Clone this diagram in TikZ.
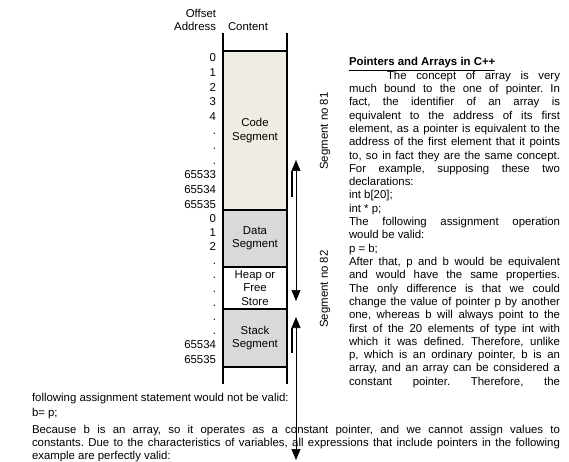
\documentclass[tikz,border=0pt]{standalone}
\usepackage{fontspec}
\setmainfont{Liberation Sans}
\usetikzlibrary{arrows.meta}
\frenchspacing
\newcommand{\jline}[2]{\makebox[#1][s]{#2}}
\definecolor{codefill}{RGB}{239,236,227}
\definecolor{segfill}{RGB}{217,217,217}
\begin{document}
\begin{tikzpicture}[x=1pt,y=-1pt,
  txt/.style={inner sep=0pt, outer sep=0pt, font=\fontsize{11.4}{13.5}\selectfont\frenchspacing},
  rl/.style={txt, anchor=base west},
  num/.style={txt, anchor=base east},
  segbox/.style={txt, draw=none, minimum width=64pt, align=center},
  border/.style={line width=1.8pt},
  shaft/.style={line width=0.7pt, {Triangle[length=11pt,width=9pt]}-{Triangle[length=11pt,width=9pt]}},
  thickbar/.style={line width=1.8pt}]
\useasboundingbox (0,0) rectangle (569,462);
% segments (fills)
\node[segbox, fill=codefill, minimum height=159pt] (code) at (255,130.5) {Code\\Segment};
\node[segbox, fill=segfill, minimum height=57pt] (data) at (255,238.5) {Data\\Segment};
\node[segbox, fill=white, minimum height=42pt] (heap) at (255,288) {Heap or\\Free\\Store};
\node[segbox, fill=segfill, minimum height=58pt] (stack) at (255,338) {Stack\\Segment};
% borders
\coordinate (ltop) at (223,33); \coordinate (lbot) at (223,384);
\coordinate (rtop) at (287,33); \coordinate (rbot) at (287,384);
\draw[border] (ltop) -- (lbot);
\draw[border] (rtop) -- (rbot);
\draw[border] (code.north west) -- (code.north east);
\draw[border] (code.south west) -- (code.south east);
\draw[border] (data.south west) -- (data.south east);
\draw[border] (heap.south west) -- (heap.south east);
\draw[border] (stack.south west) -- (stack.south east);
% header
\node[num] (h1) at (216,18) {Offset};
\node[num] (h2) at (216,31) {Address};
\node[rl] (h3) at (228,31) {Content};
% addresses
\foreach \t/\y [count=\i] in {0/62,1/76.6,2/91.2,3/105.8,4/120.4,./135,./149.6,./164.2,65533/178.8,65534/193.4,65535/208,
  0/222,1/236.1,2/250.2,./264.3,./278.4,./292.5,./306.6,./320.7,./334.8,65534/348.9,65535/363}
  \node[num] (n\i) at (216,\y) {\t};
% arrows
\coordinate (a1t) at (296,160); \coordinate (a1b) at (296,301);
\draw[shaft] (a1b) -- (a1t);
\coordinate (b1t) at (292,171); \coordinate (b1b) at (292,197);
\draw[thickbar] (b1b) -- (b1t);
\coordinate (a2t) at (296,317); \coordinate (a2b) at (296,460);
\draw[shaft] (a2b) -- (a2t);
\coordinate (b2t) at (292,328); \coordinate (b2b) at (292,353);
\draw[thickbar] (b2b) -- (b2t);
% rotated labels
\node[txt, rotate=90] (s81) at (325,131) {Segment no 81};
\node[txt, rotate=90] (s82) at (325,289) {Segment no 82};
% right paragraph
\node[rl] (p1) at (349,66) {\underline{\textbf{Pointers and Arrays in C++}}};
\node[rl] (p2) at (387,79.3) {\jline{173pt}{The concept of array is very}};
\node[rl] (p3) at (349,92.6) {\jline{211pt}{much bound to the one of pointer. In}};
\node[rl] (p4) at (349,105.9) {\jline{211pt}{fact, the identifier of an array is}};
\node[rl] (p5) at (349,119.2) {\jline{211pt}{equivalent to the address of its first}};
\node[rl] (p6) at (349,132.5) {\jline{211pt}{element, as a pointer is equivalent to the}};
\node[rl] (p7) at (349,145.8) {\jline{211pt}{address of the first element that it points}};
\node[rl] (p8) at (349,159.1) {\jline{211pt}{to, so in fact they are the same concept.}};
\node[rl] (p9) at (349,172.4) {\jline{211pt}{For example, supposing these two}};
\node[rl] (p10) at (349,185.7) {declarations:};
\node[rl] (p11) at (349,199) {int b[20];};
\node[rl] (p12) at (349,212.3) {int * p;};
\node[rl] (p13) at (349,225.6) {\jline{211pt}{The following assignment operation}};
\node[rl] (p14) at (349,238.9) {would be valid:};
\node[rl] (p15) at (349,252.2) {p = b;};
\node[rl] (p16) at (349,265.5) {\jline{211pt}{After that, p and b would be equivalent}};
\node[rl] (p17) at (349,278.8) {\jline{211pt}{and would have the same properties.}};
\node[rl] (p18) at (349,292.1) {\jline{211pt}{The only difference is that we could}};
\node[rl] (p19) at (349,305.4) {\jline{211pt}{change the value of pointer p by another}};
\node[rl] (p20) at (349,318.7) {\jline{211pt}{one, whereas b will always point to the}};
\node[rl] (p21) at (349,332) {\jline{211pt}{first of the 20 elements of type int with}};
\node[rl] (p22) at (349,345.3) {\jline{211pt}{which it was defined. Therefore, unlike}};
\node[rl] (p23) at (349,358.6) {\jline{211pt}{p, which is an ordinary pointer, b is an}};
\node[rl] (p24) at (349,371.9) {\jline{211pt}{array, and an array can be considered a}};
\node[rl] (p25) at (349,385.2) {\jline{211pt}{constant pointer. Therefore, the}};
% bottom text
\node[rl] (q1) at (32,401) {following assignment statement would not be valid:};
\node[rl] (q2) at (32,416) {b= p;};
\node[rl] (q3) at (32,433) {\jline{528pt}{Because b is an array, so it operates as a constant pointer, and we cannot assign values to}};
\node[rl] (q4) at (32,446.5) {\jline{528pt}{constants. Due to the characteristics of variables, all expressions that include pointers in the following}};
\node[rl] (q5) at (32,459) {example are perfectly valid:};
\end{tikzpicture}
\end{document}
